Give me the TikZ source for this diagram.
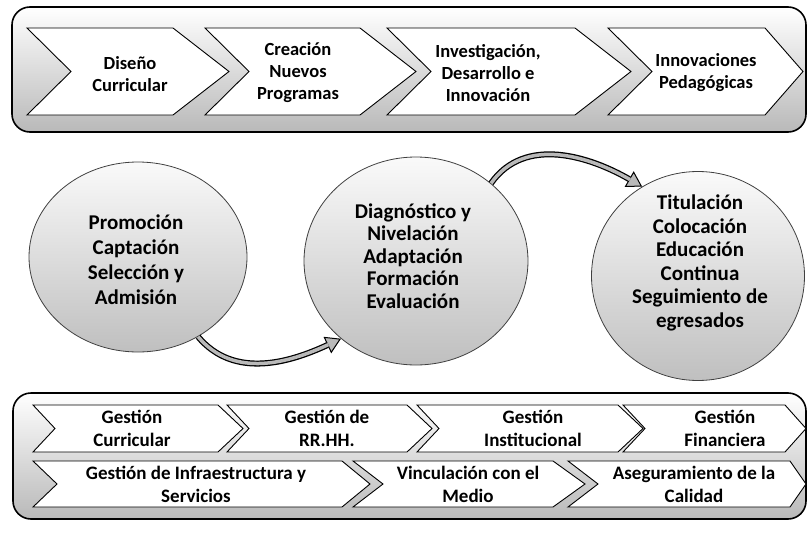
\documentclass[tikz,border=0pt]{standalone}
\usepackage{fontspec}
\setmainfont{Carlito}
\usetikzlibrary{shapes.geometric,arrows.meta}
\newcommand{\chevshape}[6]{%
  \draw[chev] (#1,#3) -- (#2,#3) -- ({#2+#6},{(#3+#4)/2}) -- (#2,#4) -- (#1,#4) -- ({#1+#5},{(#3+#4)/2}) -- cycle;}
\begin{document}
\begin{tikzpicture}[x=1pt,y=-1pt,
  band/.style={draw=black, line width=1.6pt, rounded corners=18pt, top color=white, bottom color=gray!55},
  chev/.style={draw=black, line width=0.9pt, fill=white, line join=miter},
  ctext/.style={font=\bfseries\fontsize{18.5}{22}\selectfont, align=center, inner sep=0pt},
  btext/.style={font=\bfseries\fontsize{19}{23}\selectfont, align=center, inner sep=0pt},
  bubble/.style={ellipse, draw=gray!50!black, line width=0.8pt, top color=gray!4, bottom color=gray!50, inner sep=0pt},
  bubtext/.style={font=\bfseries\fontsize{21}{#1}\selectfont, align=center, inner sep=0pt},
  arr/.style={draw=black, line width=6pt,
    -{Triangle[length=15pt,width=18pt,fill=gray!55,line width=1pt]},
    postaction={draw=gray!55, line width=3.5pt, -, shorten >=14pt}}
]
\useasboundingbox (0,0) rectangle (809,538);

% top band
\path[band] (12,7) rectangle (806,132);
\chevshape{27}{173}{28}{115}{44}{56}
\chevshape{205}{360}{28}{115}{44}{56}
\chevshape{387}{575}{28}{115}{44}{56}
\chevshape{608}{765}{28}{115}{44}{38}
\node[ctext] (d1) at (130,74) {Diseño\\Curricular};
\node[ctext] (d2) at (298,73) {Creación\\Nuevos\\Programas};
\node[ctext] (d3) at (488,73) {Investigación,\\Desarrollo e\\Innovación};
\node[ctext] (d4) at (706,73) {Innovaciones\\Pedagógicas};

% bubbles
\node[bubble, minimum width=218pt, minimum height=190pt] (c1) at (138,257) {};
\node[bubble, minimum width=224pt, minimum height=208pt] (c2) at (416,261) {};
\node[bubble, minimum width=213pt, minimum height=209pt] (c3) at (698,276) {};
\node[bubtext=25] (t1) at (136,260) {Promoción\\Captación\\Selección y\\Admisión};
\node[bubtext=22.5] (t2) at (413,256) {Diagnóstico y\\Nivelación\\Adaptación\\Formación\\Evaluación};
\node[bubtext=23.5] (t3) at (700,263) {Titulación\\Colocación\\Educación\\Continua\\Seguimiento de\\egresados};

\draw[arr] (c1.-53) to[out=-50,in=205] (c2.226);
\draw[arr] (c2.46) to[out=55,in=150] (c3.122);

% bottom band
\path[band] (13,393) rectangle (806,519);
\chevshape{33}{218}{405}{452}{22}{25}
\chevshape{227}{407}{405}{452}{22}{25}
\chevshape{417}{618}{405}{452}{22}{25}
\chevshape{623}{785}{405}{452}{22}{21}
\chevshape{33}{342}{461}{507}{24}{28}
\chevshape{353}{553}{461}{507}{30}{32}
\chevshape{568}{790}{461}{507}{30}{16}
\node[btext] (g1) at (132,428) {Gestión\\Curricular};
\node[btext] (g2) at (327,428) {Gestión de\\RR.HH.};
\node[btext] (g3) at (533,428) {Gestión\\Institucional};
\node[btext] (g4) at (725,428) {Gestión\\Financiera};
\node[btext] (h1) at (196,484) {Gestión de Infraestructura y\\Servicios};
\node[btext] (h2) at (468,484) {Vinculación con el\\Medio};
\node[btext] (h3) at (694,484) {Aseguramiento de la\\Calidad};
\end{tikzpicture}
\end{document}
